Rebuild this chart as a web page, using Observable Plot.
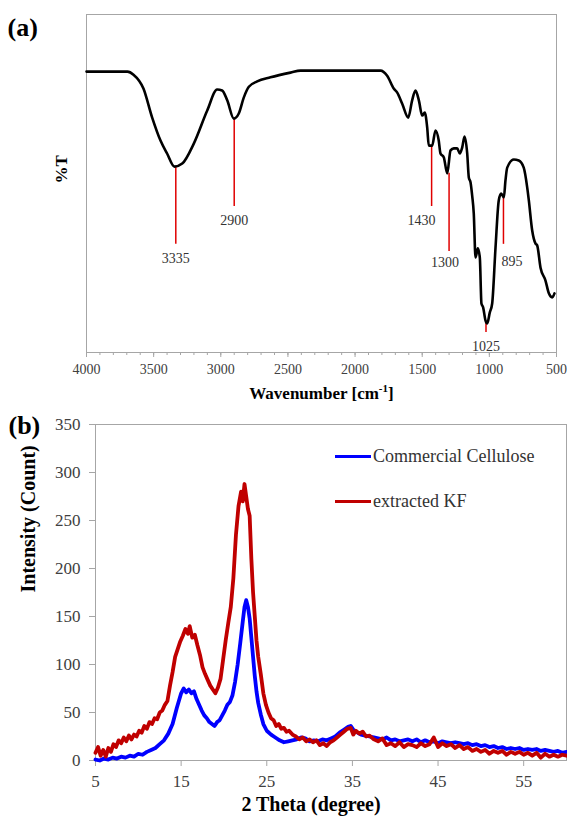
<!DOCTYPE html>
<html><head><meta charset="utf-8">
<script src="https://cdn.jsdelivr.net/npm/d3@7"></script>
<script src="https://cdn.jsdelivr.net/npm/@observablehq/plot@0.6"></script>
<style>
body{margin:0;background:#fff;}
#wrap{position:relative;width:567px;height:819px;font-family:"Liberation Serif","Times New Roman",serif;overflow:hidden;}
#a,#b{position:absolute;left:0;}
#a{top:0}
#b{top:410px}
#a svg text,#b svg text{font-family:"Liberation Serif","Times New Roman",serif !important;font-variant:normal !important;font-variant-numeric:normal !important;}
#legend{position:absolute;left:335px;top:445px;font-size:18px;color:#333;}
.row{display:flex;align-items:center;height:22px;margin-bottom:23px;white-space:nowrap}
.sw{width:36px;height:3px;margin-right:2px}
</style></head>
<body>
<div id="wrap"><div id="a"></div><div id="b"></div>
<div id="legend"></div></div>
<script>
// ---------- (a) FTIR ----------
const ftirWavenumber = [4000,3695,3650,3576,3511,3449,3399,3345,3287,3201,3101,3027,2990,2952,2903,2866,2829,2791,2729,2630,2481,2406,1811,1761,1712,1686,1649,1604,1575,1550,1525,1500,1481,1463,1451,1426,1401,1377,1364,1339,1314,1289,1265,1240,1220,1202,1185,1165,1153,1140,1128,1116,1103,1086,1071,1059,1046,1029,1016,997,979,954,930,912,892,880,867,818,781,744,718,706,681,656,644,619,582,557,532,515];
const ftirT = [83.1,83.1,82.2,78.1,69.5,62.7,58.8,55.0,55.9,61.8,71.6,77.8,77.5,74.6,69.2,70.7,75.4,78.6,80.2,81.4,82.8,83.4,83.4,81.9,78.1,76.9,73.6,69.5,74.6,77.5,74.6,70.1,71.0,66.6,61.2,61.2,65.7,62.7,58.9,57.7,53.0,59.8,60.4,60.4,58.9,60.7,63.9,58.9,51.8,50.3,46.4,41.1,28.1,30.8,28.1,14.5,13.3,9.5,8.6,11.8,14.5,31.1,45.0,47.0,45.9,50.9,54.7,57.1,56.8,54.7,48.8,45.0,36.1,32.2,31.7,25.1,21.3,17.5,16.3,17.5];
const peakWavenumber = [3335,2900,1430,1300,1025,895];
const peakTop = [55.0,69.2,61.2,53.0,8.6,46.5];
const peakBottom = [32.0,43.2,43.2,29.9,5.9,32.0];
const xTicksA = [4000,3500,3000,2500,2000,1500,1000,500];
const xMinorTicksA = d3.range(500,4001,100);

// ---------- (b) XRD ----------
const cellTheta = [5,5.5,6,6.5,7,7.5,8,8.5,9,9.5,10,10.5,11,11.5,12,12.5,13,13.5,14,14.5,15,15.3,15.6,15.9,16.2,16.5,16.8,17.1,17.4,17.7,18,18.3,18.6,18.9,19.2,19.5,19.8,20.1,20.4,20.7,21,21.3,21.6,21.9,22.2,22.4,22.6,22.8,23,23.2,23.4,23.6,23.8,24,24.3,24.6,25,25.5,26,26.5,27,27.5,28,28.5,29,29.5,30,30.5,31,31.5,32,32.5,33,33.5,34,34.5,34.8,35.2,35.6,36,36.5,37,37.5,38,38.5,39,39.5,40,40.5,41,41.5,42,42.5,43,43.5,44,44.5,45,45.5,46,46.5,47,47.5,48,48.5,49,49.5,50,50.5,51,51.5,52,52.5,53,53.5,54,54.5,55,55.5,56,56.5,57,57.5,58,58.5,59,59.5,60];
const cellCount = [1,0,2,1,3,2,4,3,5,4,7,6,9,11,13,17,21,28,38,55,70,75,71,74,70,72,64,58,52,47,44,40,38,36,40,42,47,52,58,61,68,82,100,122,145,160,167,160,148,128,108,88,72,60,48,38,31,27,24,21,19,20,21,22,24,23,20,21,20,22,21,23,25,29,32,35,36,31,29,27,26,25,24,23,22,24,21,22,20,21,22,20,22,19,21,19,20,18,20,19,18,19,18,17,18,16,17,15,16,14,15,13,14,12,13,12,13,11,12,11,12,10,11,10,9,10,8,9];
const kfTheta = [5,5.3,5.6,5.9,6.2,6.5,6.8,7.1,7.4,7.7,8,8.3,8.6,8.9,9.2,9.5,9.8,10.1,10.4,10.7,11,11.3,11.6,11.9,12.2,12.5,12.8,13.1,13.4,13.7,14,14.3,14.6,14.9,15.2,15.5,15.8,16,16.3,16.6,16.9,17.2,17.5,17.8,18.1,18.4,18.7,19,19.3,19.6,19.9,20.2,20.5,20.8,21.1,21.4,21.7,22,22.2,22.4,22.6,22.8,23,23.2,23.4,23.6,23.8,24,24.3,24.6,24.9,25.2,25.5,25.8,26.1,26.4,26.7,27,27.3,27.6,28,28.4,28.8,29.2,29.6,30,30.4,30.8,31.2,31.6,32,32.4,32.8,33.2,33.6,34,34.4,34.8,35.1,35.4,35.8,36.2,36.6,37,37.5,38,38.5,39,39.5,40,40.5,41,41.5,42,42.5,43,43.5,44,44.5,45,45.5,46,46.5,47,47.5,48,48.5,49,49.5,50,50.5,51,51.5,52,52.5,53,53.5,54,54.5,55,55.5,56,56.5,57,57.5,58,58.5,59,59.5,60];
const kfCount = [8,14,5,11,4,13,9,17,14,21,18,24,20,26,22,27,25,31,29,36,33,40,38,44,43,50,52,58,62,78,92,108,116,124,130,137,132,140,128,131,120,110,97,90,84,78,74,70,76,85,105,125,143,160,190,235,265,280,270,288,275,262,255,210,175,150,125,108,90,70,58,50,44,42,36,38,33,34,30,31,27,25,22,24,20,22,19,21,16,18,15,19,21,24,27,30,33,34,27,31,28,30,25,26,22,20,23,16,18,15,19,14,17,16,14,18,15,17,24,14,18,15,17,13,16,12,14,10,12,9,11,7,10,8,10,6,9,7,9,6,8,5,8,3,7,4,6,4,6,5];
const xTicksB = [5,15,25,35,45,55];
const yTicksB = [0,50,100,150,200,250,300,350];
const seriesNames = ["Commercial Cellulose","extracted KF"];
const seriesColors = ["#0000ff","#c00000"];

const FONT = "Liberation Serif, Times New Roman, serif";
const GRAY = "#a6a6a6";
const fmt = d => String(d);

const ftir = ftirWavenumber.map((w,i)=>({w, t: ftirT[i]}));
const peaks = peakWavenumber.map((w,i)=>({w, top: peakTop[i], bottom: peakBottom[i], label: String(w)}));

const plotA = Plot.plot({
  width:567, height:410, marginTop:14, marginBottom:58, marginLeft:86, marginRight:11,
  style:{fontFamily:FONT, fontSize:"14px", background:"transparent", overflow:"visible", color:"#404040"},
  x:{domain:[4000,500]},
  y:{domain:[0,100], axis:null},
  marks:[
    Plot.frame({stroke:GRAY}),
    Plot.axisX({ticks:xMinorTicksA, tickSize:3, tickFormat:()=>"", stroke:GRAY, label:null}),
    Plot.axisX({ticks:xTicksA, tickSize:5, tickPadding:7, tickFormat:fmt, stroke:GRAY, label:null, fontSize:14, fontFamily:FONT, fontVariant:"normal"}),
    Plot.ruleX(peaks,{x:"w", y1:"top", y2:"bottom", stroke:"#e00000", strokeWidth:1.5}),
    Plot.line(ftir,{x:"w", y:"t", stroke:"#000", strokeWidth:2.6, curve:"monotone-x"}),
    Plot.text(peaks.filter(d=>d.w!==1430 && d.w!==895 && d.w!==1300),{x:"w", y:"bottom", text:"label", dy:14, fontSize:14, fill:"#333", fontFamily:FONT}),
    Plot.text(peaks.filter(d=>d.w===1300),{x:"w", y:"bottom", text:"label", dy:11, dx:-4, fontSize:14, fill:"#333", fontFamily:FONT}),
    Plot.text(peaks.filter(d=>d.w===1430),{x:"w", y:"bottom", text:"label", dy:14, dx:4, textAnchor:"end", fontSize:14, fill:"#333", fontFamily:FONT}),
    Plot.text(peaks.filter(d=>d.w===895),{x:"w", y:"bottom", text:"label", dy:17, dx:-2, textAnchor:"start", fontSize:14, fill:"#333", fontFamily:FONT}),
    Plot.text(["Wavenumber [cm-1]"],{frameAnchor:"bottom", dy:46, fontSize:17, fontWeight:"bold", fill:"#000", fontFamily:FONT}),
    Plot.text(["%T"],{frameAnchor:"left", dx:-25, rotate:-90, fontSize:17, fontWeight:"bold", fill:"#000", fontFamily:FONT}),
    Plot.text(["(a)"],{frameAnchor:"top-left", dx:-79, dy:3, textAnchor:"start", fontSize:26, fontWeight:"bold", fill:"#000", fontFamily:FONT})
  ]
});
d3.select(plotA).selectAll("text").filter(function(){return this.textContent==="Wavenumber [cm-1]";}).each(function(){
  const t = d3.select(this); t.text(null);
  t.append("tspan").text("Wavenumber [cm");
  t.append("tspan").attr("dy","-7").attr("font-size","11").text("-1");
  t.append("tspan").attr("dy","7").text("]");
});
document.getElementById("a").append(plotA);

const xrd = [
  ...cellTheta.map((x,i)=>({x, y:cellCount[i], s:seriesNames[0]})),
  ...kfTheta.map((x,i)=>({x, y:kfCount[i], s:seriesNames[1]}))
];

const plotB = Plot.plot({
  width:567, height:409, marginTop:14, marginBottom:59, marginLeft:95, marginRight:1,
  style:{fontFamily:FONT, fontSize:"17px", background:"transparent", overflow:"visible", color:"#404040"},
  x:{domain:[5,60]},
  y:{domain:[0,350]},
  color:{domain:seriesNames, range:seriesColors},
  marks:[
    Plot.frame({stroke:GRAY}),
    Plot.axisX({ticks:xTicksB, tickSize:6, tickPadding:8, tickFormat:fmt, stroke:GRAY, label:null, fontSize:17, fontFamily:FONT, fontVariant:"normal"}),
    Plot.axisY({ticks:yTicksB, tickSize:6, tickPadding:9, tickFormat:fmt, stroke:GRAY, label:null, fontSize:17, fontFamily:FONT, fontVariant:"normal"}),
    Plot.line(xrd,{x:"x", y:"y", z:"s", stroke:"s", strokeWidth:3.8, strokeLinejoin:"round"}),
    Plot.text(["2 Theta (degree)"],{frameAnchor:"bottom", dx:-20, dy:50, fontSize:20, fontWeight:"bold", fill:"#000", fontFamily:FONT}),
    Plot.text(["Intensity (Count)"],{frameAnchor:"left", dx:-67, rotate:-90, fontSize:20, fontWeight:"bold", fill:"#000", fontFamily:FONT}),
    Plot.text(["(b)"],{frameAnchor:"top-left", dx:-87, dy:-9, textAnchor:"start", fontSize:26, fontWeight:"bold", fill:"#000", fontFamily:FONT})
  ]
});
document.getElementById("b").append(plotB);

const leg = document.getElementById("legend");
seriesNames.forEach((n,i)=>{
  const r = document.createElement("div"); r.className="row";
  const s = document.createElement("span"); s.className="sw"; s.style.background=seriesColors[i];
  const t = document.createElement("span"); t.textContent=n;
  r.append(s,t); leg.append(r);
});
</script>
</body></html>
